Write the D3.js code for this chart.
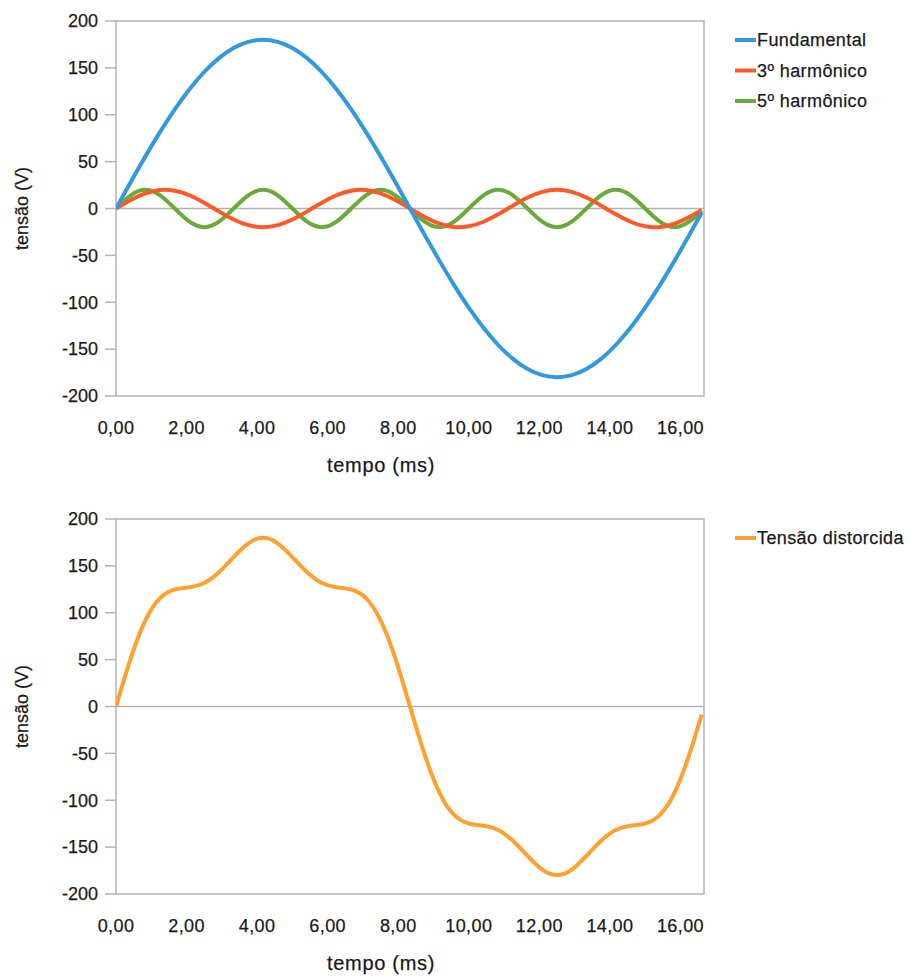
<!DOCTYPE html>
<html>
<head>
<meta charset="utf-8">
<script src="https://cdn.jsdelivr.net/npm/d3@7"></script>
<style>
  body { margin: 0; background: #fff; }
  svg text { font-family: "Liberation Sans", Arial, sans-serif; fill: #1a1a1a; stroke: #1a1a1a; stroke-width: 0.25px; }
</style>
</head>
<body>
<svg id="top-chart"></svg>
<svg id="bottom-chart"></svg>
<script>
// time samples (ms)
const tempo = [0, 0.417, 0.833, 1.250, 1.667, 2.083, 2.500, 2.917, 3.333, 3.750, 4.167, 4.583, 5.000, 5.417, 5.833,
  6.250, 6.667, 7.083, 7.500, 7.917, 8.333, 8.750, 9.167, 9.583, 10.000, 10.417, 10.833, 11.250, 11.667, 12.083,
  12.500, 12.917, 13.333, 13.750, 14.167, 14.583, 15.000, 15.417, 15.833, 16.250, 16.600];

const fundamental = [0, 28.2, 55.6, 81.7, 105.8, 127.3, 145.6, 160.4, 171.2, 177.8, 180, 177.8, 171.2, 160.4, 145.6,
  127.3, 105.8, 81.7, 55.6, 28.2, 0, -28.2, -55.6, -81.7, -105.8, -127.3, -145.6, -160.4, -171.2, -177.8,
  -180, -177.8, -171.2, -160.4, -145.6, -127.3, -105.8, -81.7, -55.6, -28.2, -4.5];

const harm3 = [0, 9.1, 16.2, 19.8, 19.0, 14.1, 6.2, -3.1, -11.8, -17.8, -20, -17.8, -11.8, -3.1, 6.2,
  14.1, 19.0, 19.8, 16.2, 9.1, 0, -9.1, -16.2, -19.8, -19.0, -14.1, -6.2, 3.1, 11.8, 17.8,
  20, 17.8, 11.8, 3.1, -6.2, -14.1, -19.0, -19.8, -16.2, -9.1, -1.5];

const harm5 = [0, 14.1, 20, 14.1, 0, -14.1, -20, -14.1, 0, 14.1, 20, 14.1, 0, -14.1, -20,
  -14.1, 0, 14.1, 20, 14.1, 0, -14.1, -20, -14.1, 0, 14.1, 20, 14.1, 0, -14.1,
  -20, -14.1, 0, 14.1, 20, 14.1, 0, -14.1, -20, -14.1, -2.5];

const distorcida = [0, 51.4, 91.8, 115.6, 124.8, 127.3, 131.8, 143.2, 159.4, 174.1, 180, 174.1, 159.4, 143.2, 131.8,
  127.3, 124.8, 115.6, 91.8, 51.4, 0, -51.4, -91.8, -115.6, -124.8, -127.3, -131.8, -143.2, -159.4, -174.1,
  -180, -174.1, -159.4, -143.2, -131.8, -127.3, -124.8, -115.6, -91.8, -51.4, -8.5];

const xTicks = [0, 2, 4, 6, 8, 10, 12, 14, 16];
const yTicks = [-200, -150, -100, -50, 0, 50, 100, 150, 200];
const xMax = 16.667;

class WaveChart {
    constructor(_config, _series) {
        this.config = {
            parentElement: _config.parentElement,
            containerWidth: _config.containerWidth || 915,
            containerHeight: _config.containerHeight || 488,
            margin: _config.margin || {top: 21, right: 211, bottom: 92, left: 116}
        }
        this.series = _series;
        this.initVis();
    }

    initVis() {
        let vis = this;

        vis.width = vis.config.containerWidth - vis.config.margin.left - vis.config.margin.right;
        vis.height = vis.config.containerHeight - vis.config.margin.top - vis.config.margin.bottom;

        vis.svg = d3.select(vis.config.parentElement)
            .attr('width', vis.config.containerWidth)
            .attr('height', vis.config.containerHeight)
            .style('display', 'block');

        vis.chart = vis.svg.append('g')
            .attr('transform', `translate(${vis.config.margin.left}, ${vis.config.margin.top})`);

        vis.xScale = d3.scaleLinear()
            .domain([0, xMax])
            .range([0, vis.width]);

        vis.yScale = d3.scaleLinear()
            .domain([-200, 200])
            .range([vis.height, 0]);

        const locale = d3.formatLocale({decimal: ',', thousands: '.', grouping: [3], currency: ['R$', '']});
        vis.xFormat = locale.format('.2f');

        vis.svg.append('clipPath')
            .attr('id', vis.config.parentElement.slice(1) + '-clip')
          .append('rect')
            .attr('width', vis.width)
            .attr('height', vis.height);

        vis.renderVis();
    }

    renderVis() {
        let vis = this;
        const grey = '#b3b3b3';

        // frame
        vis.chart.append('rect')
            .attr('width', vis.width)
            .attr('height', vis.height)
            .attr('fill', 'none')
            .attr('stroke', grey)
            .attr('stroke-width', 1.5);

        // y ticks + labels
        vis.chart.selectAll('.y-tick')
            .data(yTicks)
            .join('line')
            .attr('class', 'y-tick')
            .attr('x1', -11).attr('x2', 0)
            .attr('y1', d => vis.yScale(d)).attr('y2', d => vis.yScale(d))
            .attr('stroke', grey)
            .attr('stroke-width', 1.5);

        vis.chart.selectAll('.y-label')
            .data(yTicks)
            .join('text')
            .attr('class', 'y-label')
            .attr('x', -18)
            .attr('y', d => vis.yScale(d))
            .attr('dy', '0.35em')
            .attr('text-anchor', 'end')
            .style('font-size', '18px')
            .text(d => d);

        // zero line
        vis.chart.append('line')
            .attr('x1', 0).attr('x2', vis.width)
            .attr('y1', vis.yScale(0)).attr('y2', vis.yScale(0))
            .attr('stroke', grey)
            .attr('stroke-width', 1.5);

        // x labels
        vis.chart.selectAll('.x-label')
            .data(xTicks)
            .join('text')
            .attr('class', 'x-label')
            .attr('x', d => vis.xScale(d))
            .attr('y', vis.height + 32)
            .attr('dy', '0.35em')
            .attr('text-anchor', 'middle')
            .style('font-size', '18px')
            .style('letter-spacing', '0.4px')
            .text(d => vis.xFormat(d));

        // axis titles
        vis.chart.append('text')
            .attr('x', vis.width / 2 - 29)
            .attr('y', vis.height + 69)
            .attr('dy', '0.35em')
            .attr('text-anchor', 'middle')
            .style('font-size', '20px')
            .style('letter-spacing', '0.7px')
            .text('tempo (ms)');

        vis.chart.append('text')
            .attr('transform', `translate(${-94}, ${vis.yScale(0)}) rotate(-90)`)
            .attr('dy', '0.35em')
            .attr('text-anchor', 'middle')
            .style('font-size', '18px')
            .text('tensão (V)');

        const line = d3.line()
            .x((d, i) => vis.xScale(tempo[i]))
            .y(d => vis.yScale(d))
            .curve(d3.curveNatural);

        const lines = vis.chart.append('g')
            .attr('clip-path', `url(#${vis.config.parentElement.slice(1)}-clip)`);

        // draw in reverse so first series is on top
        lines.selectAll('.series')
            .data(vis.series.slice().reverse())
            .join('path')
            .attr('class', 'series')
            .attr('d', d => line(d.values))
            .attr('fill', 'none')
            .attr('stroke', d => d.color)
            .attr('stroke-width', 4)
            .attr('stroke-linejoin', 'round');

        // legend
        const legend = vis.chart.selectAll('.legend')
            .data(vis.series)
            .join('g')
            .attr('class', 'legend')
            .attr('transform', (d, i) => `translate(${vis.width + 31}, ${19 + i * 30.5})`);

        legend.append('line')
            .attr('x1', 0).attr('x2', 21)
            .attr('stroke', d => d.color)
            .attr('stroke-width', 4);

        legend.append('text')
            .attr('x', 22)
            .attr('dy', '0.35em')
            .style('font-size', '18px')
            .style('letter-spacing', '0.4px')
            .text(d => d.name);
    }
}

new WaveChart({parentElement: '#top-chart', containerHeight: 488}, [
    {name: 'Fundamental', values: fundamental, color: '#3399dd'},
    {name: '3º harmônico', values: harm3, color: '#ff5a28'},
    {name: '5º harmônico', values: harm5, color: '#6aaa3a'}
]);

new WaveChart({parentElement: '#bottom-chart', containerHeight: 488,
    margin: {top: 31, right: 211, bottom: 82, left: 116}}, [
    {name: 'Tensão distorcida', values: distorcida, color: '#ffa030'}
]);
</script>
</body>
</html>
